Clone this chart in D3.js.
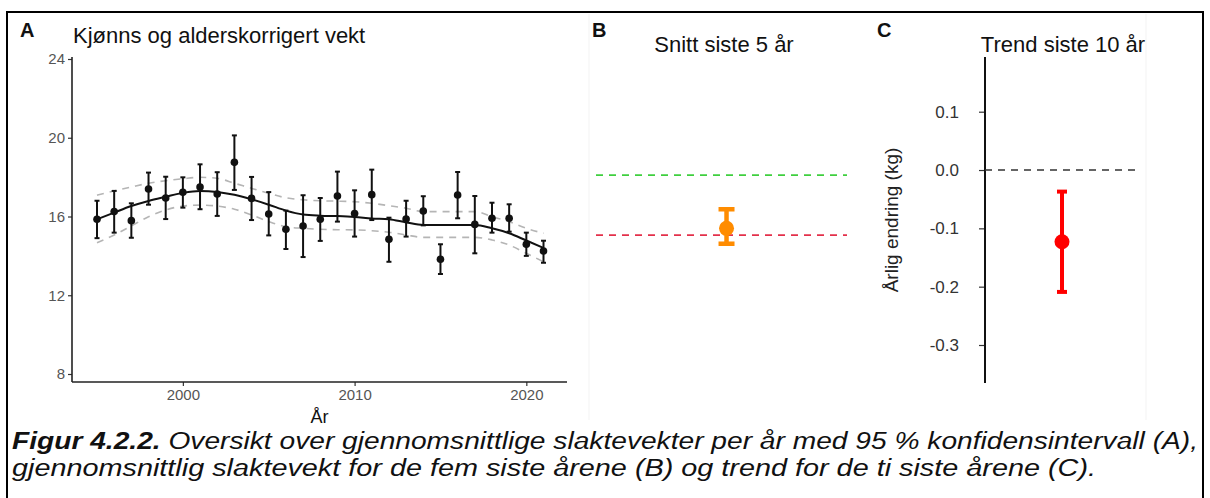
<!DOCTYPE html>
<html><head><meta charset="utf-8">
<script src="https://cdn.jsdelivr.net/npm/d3@7"></script>
<style>
body{margin:0;background:#fff;}
svg{display:block;font-family:Arial,"Liberation Sans",sans-serif;}
</style></head><body>
<svg id="c" width="1210" height="498"></svg>
<script>
// ---------- data ----------
const years = d3.range(1995, 2022);
const meanWeight = [15.86,16.25,15.79,17.4,16.94,17.23,17.5,17.14,18.75,16.92,16.13,15.35,15.52,15.86,17.04,16.15,17.11,14.84,15.87,16.28,13.83,17.09,15.6,15.91,15.91,14.59,14.25];
const lowerCI = [14.9,15.18,14.92,16.6,15.87,16.45,16.37,16.03,17.35,15.82,15.04,14.35,13.94,14.76,15.74,14.98,15.82,13.7,14.98,15.55,13.08,15.91,14.13,15.18,15.23,14.0,13.65];
const upperCI = [16.8,17.3,16.67,18.23,18.02,17.99,18.65,18.25,20.12,18.01,17.24,16.3,17.08,16.94,18.28,17.33,18.38,15.94,16.8,17.03,14.59,18.26,17.04,16.7,16.62,15.18,14.77];
const smoothFit = [15.86,16.2,16.53,16.79,17.0,17.2,17.3,17.25,17.1,16.87,16.6,16.3,16.1,16.04,16.02,15.98,15.9,15.86,15.7,15.57,15.57,15.57,15.57,15.4,15.15,14.78,14.4];
const smoothUpper = [17.08,17.3,17.5,17.69,17.82,17.92,17.99,17.94,17.69,17.43,17.18,16.95,16.85,16.8,16.78,16.75,16.67,16.55,16.42,16.25,16.25,16.25,16.25,15.99,15.74,15.4,15.15];
const smoothLower = [14.67,15.06,15.52,15.99,16.33,16.53,16.58,16.53,16.37,16.08,15.74,15.48,15.4,15.35,15.33,15.32,15.28,15.2,15.06,14.94,14.94,14.94,14.94,14.81,14.55,14.13,13.7];
const yTicksA = [8, 12, 16, 20, 24];
const xTicksA = [2000, 2010, 2020];

// panel B: mean of last 5 years, reference levels
const refLevels = [{value: 18.1, color: "#3fcf3f"}, {value: 15.06, color: "#e3304b"}];
const last5 = {mean: 15.4, lower: 14.62, upper: 16.37};

// panel C: trend last 10 years
const trend = {est: -0.123, lower: -0.209, upper: -0.037};
const yTicksC = [0.1, 0.0, -0.1, -0.2, -0.3];

const svg = d3.select("#c");

// outer frame
svg.append("path").attr("d","M7,498 V12 H1203 V498").attr("fill","none").attr("stroke","#000").attr("stroke-width",2);

// faint panel borders
[589, 1146].forEach(x => svg.append("line").attr("x1",x).attr("x2",x).attr("y1",14).attr("y2",420).attr("stroke","#f3f3f3").attr("stroke-width",1));

// ---------- Panel A ----------
const xA = d3.scaleLinear().domain([1995, 2021]).range([97, 543.5]);
const yA = d3.scaleLinear().domain([8, 24]).range([374, 59]);
const xLeft = 72, xRight = 567, yTop = 57, yBot = 382;

const gA = svg.append("g");
// y axis
const yAxis = d3.axisLeft(yA).tickValues(yTicksA).tickSize(4).tickPadding(3);
const gy = gA.append("g").attr("transform",`translate(${xLeft},0)`).call(yAxis);
gy.select(".domain").remove();
gA.append("line").attr("x1",xLeft).attr("x2",xLeft).attr("y1",yTop).attr("y2",yBot).attr("stroke","#222").attr("stroke-width",1.6);
// x axis
const xAxis = d3.axisBottom(xA).tickValues(xTicksA).tickFormat(d3.format("d")).tickSize(4).tickPadding(3);
const gx = gA.append("g").attr("transform",`translate(0,${yBot})`).call(xAxis);
gx.select(".domain").remove();
gA.append("line").attr("x1",xLeft).attr("x2",xRight).attr("y1",yBot).attr("y2",yBot).attr("stroke","#222").attr("stroke-width",1.6);
[gy, gx].forEach(g => {
  g.selectAll(".tick line").attr("stroke","#333").attr("stroke-width",1.2);
  g.selectAll(".tick text").attr("fill","#555").style("font-size","15px").style("font-family","Arial,'Liberation Sans',sans-serif");
});

gA.append("text").attr("x",(xLeft+xRight)/2).attr("y",423).attr("text-anchor","middle").style("font-size","18px").attr("fill","#111").text("År");
gA.append("text").attr("x",73).attr("y",43).style("font-size","22px").attr("fill","#111").text("Kjønns og alderskorrigert vekt");
gA.append("text").attr("x",20).attr("y",37).style("font-size","20px").style("font-weight","bold").attr("fill","#111").text("A");

const lineGen = arr => d3.line().x((d,i)=>xA(years[i])).y(d=>yA(d)).curve(d3.curveMonotoneX)(arr);
gA.append("path").attr("d",lineGen(smoothUpper)).attr("fill","none").attr("stroke","#b5b5b5").attr("stroke-width",1.6).attr("stroke-dasharray","7,6");
gA.append("path").attr("d",lineGen(smoothLower)).attr("fill","none").attr("stroke","#b5b5b5").attr("stroke-width",1.6).attr("stroke-dasharray","7,6");
gA.append("path").attr("d",lineGen(smoothFit)).attr("fill","none").attr("stroke","#111").attr("stroke-width",2);

const pts = years.map((y,i)=>({year:y, m:meanWeight[i], lo:lowerCI[i], hi:upperCI[i]}));
const eb = gA.selectAll("g.eb").data(pts).join("g").attr("class","eb");
eb.append("line").attr("x1",d=>xA(d.year)).attr("x2",d=>xA(d.year)).attr("y1",d=>yA(d.lo)).attr("y2",d=>yA(d.hi)).attr("stroke","#111").attr("stroke-width",2);
eb.append("line").attr("x1",d=>xA(d.year)-2.5).attr("x2",d=>xA(d.year)+2.5).attr("y1",d=>yA(d.lo)).attr("y2",d=>yA(d.lo)).attr("stroke","#111").attr("stroke-width",2);
eb.append("line").attr("x1",d=>xA(d.year)-2.5).attr("x2",d=>xA(d.year)+2.5).attr("y1",d=>yA(d.hi)).attr("y2",d=>yA(d.hi)).attr("stroke","#111").attr("stroke-width",2);
eb.append("circle").attr("cx",d=>xA(d.year)).attr("cy",d=>yA(d.m)).attr("r",3.8).attr("fill","#111");

// ---------- Panel B ----------
const gB = svg.append("g");
const yB = d3.scaleLinear().domain([7.6, 24.1]).range([382, 57]);
const xB = d3.scaleLinear().domain([0, 1]).range([596, 847]);
gB.append("text").attr("x",592).attr("y",37).style("font-size","20px").style("font-weight","bold").attr("fill","#111").text("B");
gB.append("text").attr("x",724).attr("y",52).attr("text-anchor","middle").style("font-size","22px").attr("fill","#111").text("Snitt siste 5 år");
gB.selectAll("line.ref").data(refLevels).join("line").attr("class","ref")
  .attr("x1",xB(0)).attr("x2",xB(1)).attr("y1",d=>yB(d.value)).attr("y2",d=>yB(d.value))
  .attr("stroke",d=>d.color).attr("stroke-width",1.8).attr("stroke-dasharray","7,6");
const bx = xB(0.52);
const orange = "#ff8c00";
gB.append("line").attr("x1",bx).attr("x2",bx).attr("y1",yB(last5.lower)).attr("y2",yB(last5.upper)).attr("stroke",orange).attr("stroke-width",4.5);
[last5.lower, last5.upper].forEach(v => gB.append("line").attr("x1",bx-8).attr("x2",bx+8).attr("y1",yB(v)).attr("y2",yB(v)).attr("stroke",orange).attr("stroke-width",4.5));
gB.append("circle").attr("cx",bx).attr("cy",yB(last5.mean)).attr("r",7.5).attr("fill",orange);

// ---------- Panel C ----------
const gC = svg.append("g");
const yC = d3.scaleLinear().domain([-0.3, 0.1]).range([345, 111.7]);
const xC = d3.scaleLinear().domain([0, 1]).range([985, 1137]);
gC.append("text").attr("x",877).attr("y",37).style("font-size","20px").style("font-weight","bold").attr("fill","#111").text("C");
gC.append("text").attr("x",1063).attr("y",52).attr("text-anchor","middle").style("font-size","22px").attr("fill","#111").text("Trend siste 10 år");
const fmtC = d => d3.format(".1f")(d).replace("\u2212", "-");
const cAxis = d3.axisLeft(yC).tickValues(yTicksC).tickFormat(fmtC).tickSize(6).tickPadding(20);
const gcy = gC.append("g").attr("transform","translate(985,0)").call(cAxis);
gcy.select(".domain").remove();
gcy.selectAll(".tick line").attr("stroke","#333").attr("stroke-width",1.2);
gcy.selectAll(".tick text").attr("fill","#333").style("font-size","17px").style("font-family","Arial,'Liberation Sans',sans-serif");
gC.append("line").attr("x1",985).attr("x2",985).attr("y1",57).attr("y2",383).attr("stroke","#111").attr("stroke-width",2);
gC.append("text").attr("transform","translate(898,220) rotate(-90)").attr("text-anchor","middle").style("font-size","19px").attr("fill","#222").text("Årlig endring (kg)");
gC.append("line").attr("x1",xC(0)).attr("x2",xC(1)).attr("y1",yC(0)).attr("y2",yC(0)).attr("stroke","#333").attr("stroke-width",1.6).attr("stroke-dasharray","7,6");
const cx = 1062;
gC.append("line").attr("x1",cx).attr("x2",cx).attr("y1",yC(trend.lower)).attr("y2",yC(trend.upper)).attr("stroke","#ff0000").attr("stroke-width",4);
[trend.lower, trend.upper].forEach(v => gC.append("line").attr("x1",cx-5).attr("x2",cx+5).attr("y1",yC(v)).attr("y2",yC(v)).attr("stroke","#ff0000").attr("stroke-width",4));
gC.append("circle").attr("cx",cx).attr("cy",yC(trend.est)).attr("r",7.5).attr("fill","#ff0000");

// ---------- Caption ----------
const cap = svg.append("g").style("font-family","'Liberation Sans Narrow','Arial Narrow',Arial,sans-serif").style("font-style","italic").style("font-size","23px").attr("fill","#111");
const t1 = cap.append("text").attr("x",12).attr("y",449).attr("textLength",1186).attr("lengthAdjust","spacingAndGlyphs");
t1.append("tspan").style("font-weight","bold").text("Figur 4.2.2.");
t1.append("tspan").text(" Oversikt over gjennomsnittlige slaktevekter per år med 95 % konfidensintervall (A),");
cap.append("text").attr("x",12).attr("y",476).attr("textLength",1084).attr("lengthAdjust","spacingAndGlyphs")
  .text("gjennomsnittlig slaktevekt for de fem siste årene (B) og trend for de ti siste årene (C).");
</script>
</body></html>
